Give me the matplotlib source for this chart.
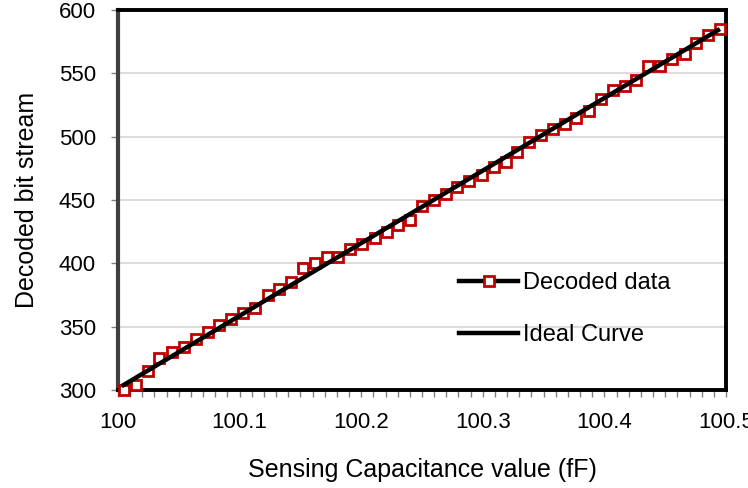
import matplotlib
matplotlib.use("Agg")
import matplotlib.pyplot as plt
from matplotlib.lines import Line2D
from matplotlib.ticker import MultipleLocator

plt.rcParams['font.family'] = ['Liberation Sans', 'DejaVu Sans']

# Data
cap_fF = [100.005, 100.015, 100.025, 100.034, 100.044, 100.054, 100.064, 100.074,
          100.083, 100.093, 100.103, 100.113, 100.123, 100.132, 100.142, 100.152,
          100.162, 100.172, 100.181, 100.191, 100.201, 100.211, 100.221, 100.230,
          100.240, 100.250, 100.260, 100.270, 100.279, 100.289, 100.299, 100.309,
          100.319, 100.328, 100.338, 100.348, 100.358, 100.368, 100.377, 100.387,
          100.397, 100.407, 100.417, 100.426, 100.436, 100.446, 100.456, 100.466,
          100.475, 100.485, 100.495]
decoded = [300, 304, 315, 325, 330, 334, 340, 346, 351, 356, 361, 365, 375, 380, 385,
           396, 400, 405, 405, 411, 415, 420, 425, 430, 434, 445, 450, 455, 460, 465,
           470, 476, 480, 488, 496, 501, 506, 510, 515, 520, 530, 537, 540, 545, 556,
           556, 561, 565, 574, 580, 585]
ideal_x = [100.003, 100.495]
ideal_y = [303, 585]

xticks = [100, 100.1, 100.2, 100.3, 100.4, 100.5]
xtick_labels = ['100', '100.1', '100.2', '100.3', '100.4', '100.5']
yticks = [300, 350, 400, 450, 500, 550, 600]

fig = plt.figure(figsize=(7.48, 4.88), dpi=100)
ax = fig.add_axes([118/748, 1-390/488, (726-118)/748, (390-10)/488])

red = '#C00000'
ax.plot(cap_fF, decoded, linestyle='none', marker='s', markersize=7.8,
        markerfacecolor='white', markeredgecolor=red, markeredgewidth=2.0,
        zorder=3, clip_on=False)
ax.plot(ideal_x, ideal_y, color='black', linewidth=3.2, zorder=4,
        solid_capstyle='butt')

ax.set_xlim(100, 100.5)
ax.set_ylim(300, 600)
ax.set_xticks(xticks)
ax.set_xticklabels(xtick_labels)
ax.set_yticks(yticks)
ax.xaxis.set_minor_locator(MultipleLocator(0.01))

ax.grid(axis='y', color='#d9d9d9', linewidth=1.3, zorder=0)
ax.set_axisbelow(True)

ax.tick_params(axis='both', which='both', direction='out', color='#808080',
               width=1.0, length=5, labelsize=16, labelcolor='black')
ax.tick_params(axis='x', which='major', pad=11)
ax.tick_params(axis='y', which='major', pad=11)

for side in ['top', 'right', 'bottom']:
    ax.spines[side].set_color('black')
    ax.spines[side].set_linewidth(2.8)
ax.spines['left'].set_color('#404040')
ax.spines['left'].set_linewidth(3.0)

ax.set_xlabel('Sensing Capacitance value (fF)', fontsize=18, labelpad=18)
ax.set_ylabel('Decoded bit stream', fontsize=18, labelpad=14)

h1 = Line2D([], [], color='black', linewidth=3.2, marker='s', markersize=7.5,
            markerfacecolor='white', markeredgecolor=red, markeredgewidth=2.0)
h2 = Line2D([], [], color='black', linewidth=3.2)
leg = ax.legend([h1, h2], ['Decoded data', 'Ideal Curve'], frameon=False,
                fontsize=17, handlelength=2.5, handletextpad=0.2,
                labelspacing=1.25, loc='upper left',
                bbox_to_anchor=((438-118)/608, (390-251)/380))

fig.savefig('out.png', dpi=100)
